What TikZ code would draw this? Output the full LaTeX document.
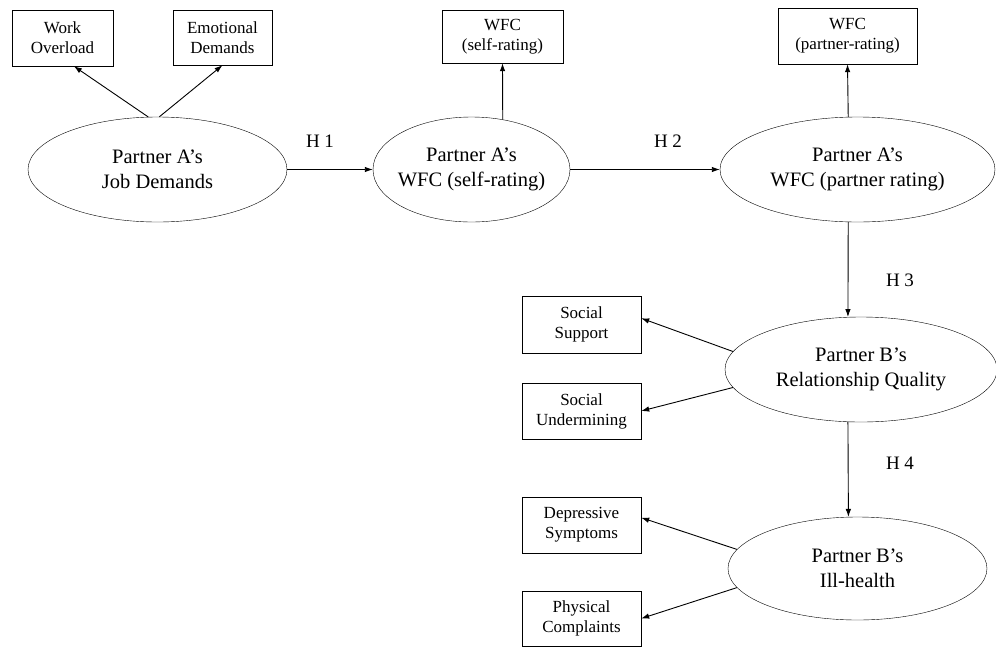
\documentclass[tikz,border=0pt]{standalone}
\usepackage{fontspec}
\setmainfont{Liberation Serif}
\usetikzlibrary{arrows.meta, positioning, shapes.geometric}

\begin{document}
\begin{tikzpicture}[
    x=1pt, y=-1pt,
    ind/.style={
        rectangle, draw, inner sep=0pt,
        minimum width=119pt,
        minimum height=56pt,
        align=center, font=\fontsize{17}{20}\selectfont
    },
    latent/.style={
        ellipse, draw, inner xsep=-10pt, inner ysep=0pt,
        minimum height=105pt,
        align=center, font=\fontsize{20.5}{25}\selectfont
    },
    arr/.style={-{Latex[length=8pt, width=5.5pt]}, line width=0.9pt},
    hyp/.style={font=\fontsize{19}{22}\selectfont}
]
    \useasboundingbox (0,0) rectangle (996,646);

    \node[latent, minimum width=259pt] (jd) at (157.5,169.5) {Partner A's\\Job Demands};
    \node[latent, minimum width=197pt] (ws) at (471.5,169.5) {Partner A's\\WFC (self-rating)};
    \node[latent, minimum width=275pt] (wp) at (857.5,169.5) {Partner A's\\WFC (partner rating)};
    \node[latent, minimum width=272pt] (rq) at (861,369.5) {Partner B's\\Relationship Quality};
    \node[latent, minimum width=259pt, minimum height=103pt] (ih) at (857.5,568.5) {Partner B's\\Ill-health};

    \node[ind, minimum width=101pt] (wo) at (62.5,38) {Work\\Overload};
    \node[ind, minimum width=99pt, minimum height=55pt] (ed) at (222.5,37.5) {Emotional\\Demands};
    \node[ind, minimum width=121pt, minimum height=53pt] (sr) at (502.5,36.5) {WFC\\(self-rating)};
    \node[ind, minimum width=139pt] (pr) at (847.5,36) {WFC\\(partner-rating)};
    \node[ind, minimum height=57pt] (ss) at (581.5,324.5) {Social\\Support};
    \node[ind] (su) at (581.5,411) {Social\\Undermining};
    \node[ind] (ds) at (581.5,525) {Depressive\\Symptoms};
    \node[ind, minimum height=55pt] (pc) at (581.5,618.5) {Physical\\Complaints};

    \draw[arr] (jd.100) -- (wo.-68);
    \draw[arr] (jd.88) -- (ed.south);
    \draw[arr] (ws.58) -- (sr.south);
    \draw[arr] (wp.100) -- (pr.south);
    \draw[arr] (jd.east) -- (ws.west);
    \draw[arr] (ws.east) -- (wp.west);
    \draw[arr] (wp.260) -- (rq.104);
    \draw[arr] (rq.256) -- (ih.100);
    \draw[arr] (rq.172.6) -- (ss.6);
    \draw[arr] (rq.188) -- (su.east);
    \draw[arr] (ih.171.6) -- (ds.7);
    \draw[arr] (ih.189) -- (pc.east);

    \node[hyp] (h1) at (320,141) {H 1};
    \node[hyp] (h2) at (668,141) {H 2};
    \node[hyp] (h3) at (900,280) {H 3};
    \node[hyp] (h4) at (900,463) {H 4};
\end{tikzpicture}
\end{document}
